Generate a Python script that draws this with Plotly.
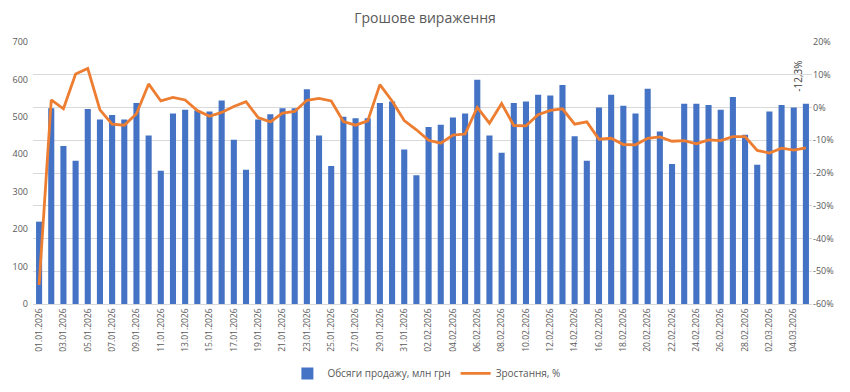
import plotly.graph_objects as go

dates = [
    "01.01.2026", "02.01.2026", "03.01.2026", "04.01.2026", "05.01.2026", "06.01.2026", "07.01.2026", "08.01.2026",
    "09.01.2026", "10.01.2026", "11.01.2026", "12.01.2026", "13.01.2026", "14.01.2026", "15.01.2026", "16.01.2026",
    "17.01.2026", "18.01.2026", "19.01.2026", "20.01.2026", "21.01.2026", "22.01.2026", "23.01.2026", "24.01.2026",
    "25.01.2026", "26.01.2026", "27.01.2026", "28.01.2026", "29.01.2026", "30.01.2026", "31.01.2026", "01.02.2026",
    "02.02.2026", "03.02.2026", "04.02.2026", "05.02.2026", "06.02.2026", "07.02.2026", "08.02.2026", "09.02.2026",
    "10.02.2026", "11.02.2026", "12.02.2026", "13.02.2026", "14.02.2026", "15.02.2026", "16.02.2026", "17.02.2026",
    "18.02.2026", "19.02.2026", "20.02.2026", "21.02.2026", "22.02.2026", "23.02.2026", "24.02.2026", "25.02.2026",
    "26.02.2026", "27.02.2026", "28.02.2026", "01.03.2026", "02.03.2026", "03.03.2026", "04.03.2026", "05.03.2026",
]

sales = [
    220, 523, 422, 383, 521, 493, 505, 493, 537, 450, 356, 509, 519, 517, 514, 544,
    439, 359, 493, 507, 523, 523, 574, 450, 369, 500, 496, 496, 537, 541, 413, 344,
    473, 479, 498, 509, 599, 450, 404, 537, 541, 559, 557, 585, 448, 383, 525, 559,
    530, 509, 575, 461, 374, 535, 535, 532, 519, 553, 452, 372, 514, 532, 525, 535,
]

growth = [
    -54.2, 2.3, -0.4, 10.2, 11.9, -0.7, -5.1, -5.4, -1.9, 7.2, 2.0, 3.1, 2.3, -0.9, -2.7, -1.5,
    0.3, 1.8, -3.1, -4.4, -1.7, -1.2, 2.2, 2.8, 2.0, -4.3, -5.4, -4.1, 7.0, 2.0, -4.0, -6.8,
    -10.0, -10.9, -8.4, -8.1, 0.0, -4.8, 1.2, -5.5, -5.6, -2.2, -0.9, -0.4, -5.1, -4.4, -9.7, -9.4,
    -11.3, -11.4, -9.4, -9.0, -10.3, -10.1, -11.1, -9.9, -10.1, -8.9, -8.9, -13.1, -13.9, -12.4, -13.0, -12.3,
]

left_ticks = [0, 100, 200, 300, 400, 500, 600, 700]
right_ticks = [-60, -50, -40, -30, -20, -10, 0, 10, 20]
right_ticktext = ["-60%", "-50%", "-40%", "-30%", "-20%", "-10%", "0%", "10%", "20%"]
last_label = "-12,3%"

FONT = "Open Sans"
GREY = "#595959"

fig = go.Figure()
fig.add_trace(go.Bar(
    x=dates, y=sales, name="Обсяги продажу, млн грн",
    marker=dict(color="#4472C4", line=dict(width=0)),
    yaxis="y",
))
fig.add_trace(go.Scatter(
    x=dates, y=growth, name="Зростання, %", mode="lines",
    line=dict(color="#ED7D31", width=2.8),
    yaxis="y2",
))

fig.add_annotation(
    x=dates[-1], y=growth[-1], xref="x", yref="y2",
    text=last_label, textangle=-90, showarrow=False,
    xshift=-8, yshift=72,
    font=dict(family=FONT, size=10, color="#404040"),
)

fig.update_layout(
    width=850, height=392,
    margin=dict(l=33, r=38, t=42, b=88, autoexpand=False),
    paper_bgcolor="white", plot_bgcolor="white",
    bargap=0.5,
    title=dict(text="Грошове вираження", x=0.5, xanchor="center", y=0.955, yanchor="middle",
               font=dict(family=FONT, size=14, color=GREY)),
    font=dict(family=FONT, size=10, color=GREY),
    showlegend=True,
    legend=dict(orientation="h", x=0.505, xanchor="center", y=-0.265, yanchor="middle",
                font=dict(family=FONT, size=10, color=GREY), itemwidth=30),
    xaxis=dict(
        type="category", tickangle=-90, automargin=False,
        tickvals=dates[::2], ticktext=dates[::2],
        showgrid=False, showline=True, linecolor="#D9D9D9", linewidth=1,
        ticks="", tickfont=dict(family=FONT, size=8.5, color=GREY),
    ),
    yaxis=dict(
        range=[0, 700], tickvals=left_ticks, showgrid=False, zeroline=False, automargin=False,
        ticks="", ticklabelstandoff=4, tickfont=dict(family=FONT, size=9, color=GREY),
    ),
    yaxis2=dict(
        range=[-60, 20], overlaying="y", side="right", automargin=False,
        tickvals=right_ticks, ticktext=right_ticktext,
        showgrid=True, gridcolor="#D9D9D9", gridwidth=1, zeroline=False,
        ticks="", tickfont=dict(family=FONT, size=9, color=GREY),
    ),
)

fig.write_html("out.html", config={"displayModeBar": False},
               post_script="document.body.style.margin='0';document.body.style.overflow='hidden';")
